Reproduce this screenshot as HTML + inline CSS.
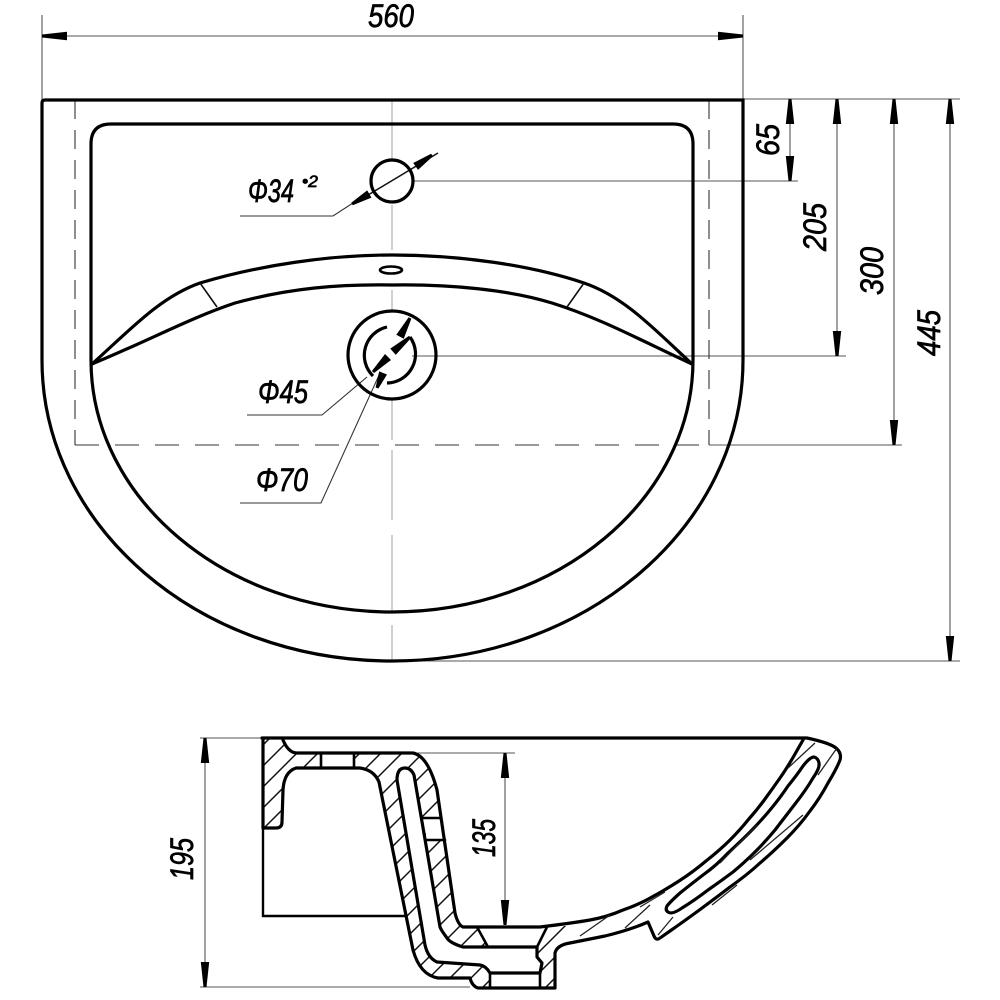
<!DOCTYPE html>
<html><head><meta charset="utf-8">
<style>
html,body{margin:0;padding:0;background:#fff}
svg{display:block}
text{font-family:"Liberation Sans",sans-serif;font-style:italic;fill:#000;stroke:#000;stroke-width:.7;font-size:32px;text-anchor:middle}
</style></head><body>
<svg width="1000" height="1000" viewBox="0 0 1000 1000" xmlns="http://www.w3.org/2000/svg">
<defs>
<polygon id="a" points="-1.5,0 1.5,0 4.2,25 -4.2,25" fill="#000"/>
<pattern id="h" width="21" height="21" patternUnits="userSpaceOnUse">
<path d="M-2 23L23 -2M-2 2L2 -2M19 23L23 19" stroke="#111" stroke-width="1.5"/>
</pattern>
</defs>

<!-- thin dimension lines -->
<g fill="none" stroke="#555" stroke-width="1.1">
<path d="M42 15V100M743 15V100M42 36H743"/>
<path d="M743 99H960M692 181H798M692 356H846M709 445H902M392 661H960"/>
<path d="M790 99V181M837 99V356M894 99V445M950 99V661"/>
<path d="M392 100V160M392 205V250M392 290V311M392 399V440M392 450V520M392 535V612M392 625V661" stroke="#aaa"/>
<path d="M412 181H692M412 356H692"/>
<path d="M200 738H262M200 987H470M205 738V987M410 753H515M505 753V925"/>
<path d="M240 216H333L353 203M247 415H322L367 377M240 503H321L380 373" stroke="#333"/>
<path d="M438 153L353 204" stroke="#111" stroke-width="1.5"/>
<path d="M75 100V445M709 100V445" stroke-dasharray="19 11" stroke="#333"/>
<path d="M75 445H709" stroke-dasharray="24 16" stroke="#333"/>
</g>

<!-- dimension arrows -->
<use href="#a" transform="translate(42,36) rotate(-90)"/>
<use href="#a" transform="translate(743,36) rotate(90)"/>
<use href="#a" transform="translate(790,99)"/>
<use href="#a" transform="translate(837,99)"/>
<use href="#a" transform="translate(894,99)"/>
<use href="#a" transform="translate(950,99)"/>
<use href="#a" transform="translate(790,181) rotate(180)"/>
<use href="#a" transform="translate(837,356) rotate(180)"/>
<use href="#a" transform="translate(894,445) rotate(180)"/>
<use href="#a" transform="translate(950,661) rotate(180)"/>
<use href="#a" transform="translate(205,738)"/>
<use href="#a" transform="translate(205,987) rotate(180)"/>
<use href="#a" transform="translate(505,753)"/>
<use href="#a" transform="translate(505,925) rotate(180)"/>

<!-- top view -->
<g fill="none" stroke="#000" stroke-width="3.2">
<path d="M42 103Q42 100 45 100H743V360C743 526 586 661 392 661C198 661 42 526 42 360Z"/>
<path d="M91 360V144Q91 124 111 124H673Q693 124 693 144V360C693 499 558 612 392 612C226 612 91 499 91 360Z"/>
<path d="M92 364C130 330 160 297 200 283C260 265 330 255 392 255C460 255 530 265 584 283C625 297 655 330 692 364"/>
<path d="M92 364C150 340 190 318 235 303C290 288 340 284 392 285C450 284 510 290 552 303C600 318 640 340 692 364"/>
<circle cx="392" cy="181" r="21"/>
<circle cx="392" cy="355" r="44"/>
<ellipse cx="391" cy="270" rx="11" ry="3.5" stroke-width="2.6"/>
<path d="M387 327A29 29 0 0 0 373 376"/>
<path d="M410 337A29 29 0 0 1 387 383"/>
</g>
<path d="M200 283L217 307M584 283L567 307" stroke="#111" stroke-width="1.6"/>

<!-- angled arrows -->
<use href="#a" transform="translate(432,155) rotate(55) scale(1,.8)"/>
<use href="#a" transform="translate(352,204) rotate(-120) scale(1,.8)"/>
<use href="#a" transform="translate(410,318) rotate(28) scale(1,.85)"/>
<use href="#a" transform="translate(410,337) rotate(49) scale(1,.9)"/>
<use href="#a" transform="translate(373,372) rotate(-135) scale(1,.85)"/>
<use href="#a" transform="translate(377,388) rotate(-158) scale(1,.65)"/>

<!-- section: left part -->
<path fill="url(#h)" d="M263 738V828H276Q282 828 282 822L283 790Q284 772 296 768H360Q374 770 379 782L407 915L413 950Q420 975 438 978H470L475 988H553L555 953Q557 945 570 943V926L540 926H463Q458 925 455 913L437 790Q428 756 413 753H296Q288 752 283 738Z"/>
<g fill="#fff" stroke="none">
<path d="M490 973H540L542 963L537 957V947H463Q450 943 447 938Q441 930 440 927L414 775Q411 768 405 768Q397 768 397 780L425 945Q428 958 437 962L480 965Q486 966 490 973Z"/>
<path d="M477 927H547L537 947H488Z"/>
<rect x="490" y="973" width="50" height="15"/>
<rect x="321" y="753" width="33" height="15"/>
<polygon points="423,818 441,818 445,840 427,840"/>
</g>
<g fill="none" stroke="#000" stroke-width="3.2" stroke-linejoin="round" stroke-linecap="round">
<path d="M262 738H807Q830 743 836 748Q842 753 840 760Q837 768 828 783Q820 798 810 811Q800 825 787 838Q773 852 760 863Q747 875 730 887Q713 900 698 911Q683 922 670 931L660 938Q656 941 654 936L648 922Q630 930 605 936L570 943Q557 945 555 953V988H478Q472 986 470 978H438Q420 975 413 950L379 782Q374 770 360 768H296Q284 772 283 790L282 822Q282 828 276 828H263V738"/>
<path d="M283 740Q288 752 296 753H413Q428 756 437 790L455 913Q458 925 463 927H540Q573 923 590 920Q607 917 623 910Q640 904 652 897Q665 890 679 881Q693 872 706 861Q720 850 730 840Q740 830 748 820Q757 810 765 799Q773 788 780 778Q787 768 795 754L803 740"/>
<path d="M490 973H540L542 963L537 957V947H463Q450 943 447 938Q441 930 440 927L414 775Q411 768 405 768Q397 768 397 780L425 945Q428 958 437 962L480 965Q486 966 490 973Z"/>
<path d="M814 757Q810 757 803 766Q797 775 788 786Q780 798 770 810Q760 822 750 832Q740 842 728 853Q717 865 703 875Q690 885 680 893Q670 902 667 906Q665 910 668 912Q672 915 682 908Q695 900 708 890Q721 881 733 872Q745 862 755 852Q765 842 775 830Q785 817 795 804Q806 790 813 778Q820 768 819 763Q818 758 814 757Z"/>
<path d="M477 927L488 947M547 927L537 947M490 973V988M540 973V988M321 753V768M354 753V768M423 818H441M427 840H445" stroke-width="2.6"/>
</g>
<path d="M263 828V916H407" fill="none" stroke="#000" stroke-width="2.4"/>
<g fill="none" stroke="#222" stroke-width="1.3">
<path d="M788 768L815 743M818 775L837 748M720 863L757 825M803 815L750 860M712 905L737 885M658 935L673 917M640 907L665 892"/>
<path d="M580 936L610 915M625 928L650 905"/>
</g>

<!-- labels -->
<text x="391" y="27" textLength="46" lengthAdjust="spacingAndGlyphs">560</text>
<text x="271" y="202" textLength="46" lengthAdjust="spacingAndGlyphs">Φ34</text>
<text x="310" y="187" style="font-size:17px" textLength="16" lengthAdjust="spacingAndGlyphs">•2</text>
<text x="283" y="403" textLength="50" lengthAdjust="spacingAndGlyphs">Φ45</text>
<text x="282" y="491" textLength="52" lengthAdjust="spacingAndGlyphs">Φ70</text>
<text transform="translate(779,140) rotate(-90)" textLength="32" lengthAdjust="spacingAndGlyphs">65</text>
<text transform="translate(826,227) rotate(-90)" textLength="48" lengthAdjust="spacingAndGlyphs">205</text>
<text transform="translate(883,271) rotate(-90)" textLength="48" lengthAdjust="spacingAndGlyphs">300</text>
<text transform="translate(940,333) rotate(-90)" textLength="46" lengthAdjust="spacingAndGlyphs">445</text>
<text transform="translate(193,859) rotate(-90)" textLength="42" lengthAdjust="spacingAndGlyphs">195</text>
<text transform="translate(495,838) rotate(-90)" textLength="38" lengthAdjust="spacingAndGlyphs">135</text>
</svg>
</body></html>
